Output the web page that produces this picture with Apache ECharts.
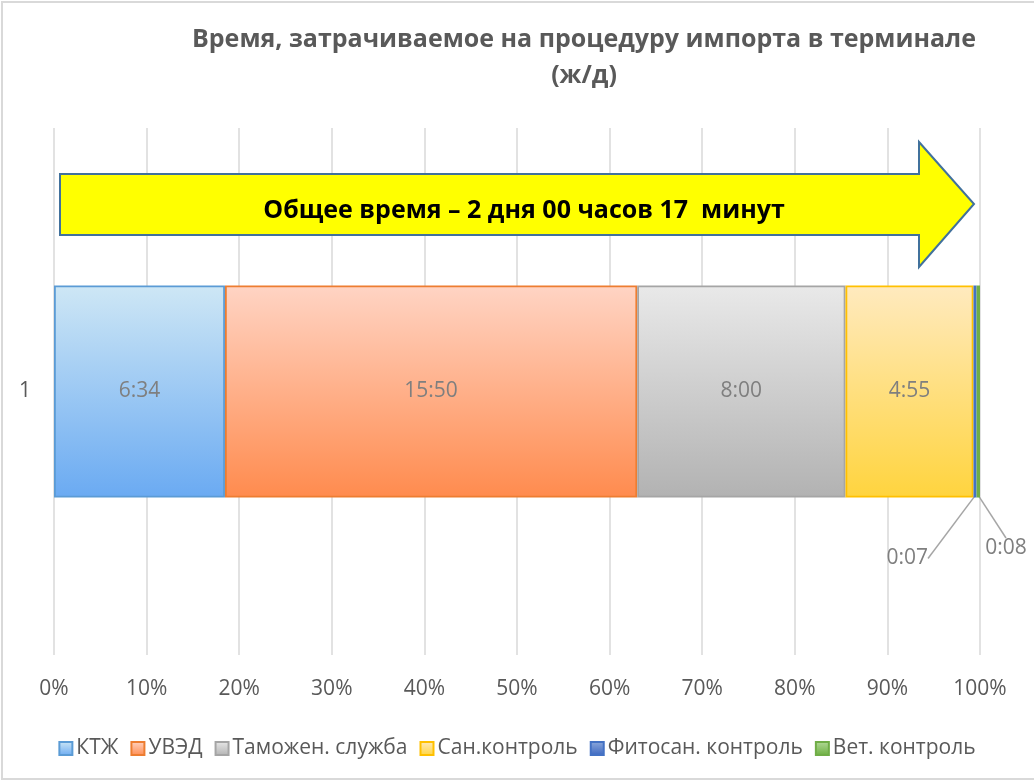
<!DOCTYPE html>
<html>
<head>
<meta charset="utf-8">
<script src="https://cdn.jsdelivr.net/npm/echarts@6/dist/echarts.min.js"></script>
<style>
html,body{margin:0;padding:0;background:#fff;}
#chart{width:1034px;height:782px;}
</style>
</head>
<body>
<div id="chart"></div>
<script>
// ---- data ----
const categories = ['1'];
const seriesNames = ['КТЖ', 'УВЭД', 'Таможен. служба', 'Сан.контроль', 'Фитосан. контроль', 'Вет. контроль'];
const minutesValues = [394, 950, 480, 295, 7, 8];   // 6:34, 15:50, 8:00, 4:55, 0:07, 0:08
const xTickValues = [0, 10, 20, 30, 40, 50, 60, 70, 80, 90, 100];
const titleText = 'Время, затрачиваемое на процедуру импорта в терминале\n(ж/д)';
const arrowText = 'Общее время – 2 дня 00 часов 17  минут';

// ---- styles ----
const gradients = [
  ['#CEE7F5', '#6AAAF2', '#5B9BD5'],
  ['#FFD4C4', '#FF8B4E', '#ED7D31'],
  ['#E9E9E9', '#B2B2B2', '#A5A5A5'],
  ['#FFEABF', '#FFD43E', '#FFC000'],
  ['#8FAADC', '#3A66C0', '#4472C4'],
  ['#B4DA9A', '#6AAE3E', '#70AD47']
];

const total = minutesValues.reduce((a, b) => a + b, 0);
function fmt(m) {
  const h = Math.floor(m / 60), mm = m % 60;
  return h + ':' + (mm < 10 ? '0' : '') + mm;
}

const series = seriesNames.map((name, i) => {
  const s = {
    name: name,
    type: 'bar',
    stack: 'total',
    barWidth: 212,
    data: categories.map(() => minutesValues[i] / total * 100),
    itemStyle: {
      color: new echarts.graphic.LinearGradient(0, 0, 0, 1, [
        {offset: 0, color: gradients[i][0]},
        {offset: 1, color: gradients[i][1]}
      ]),
      borderColor: gradients[i][2],
      borderWidth: 1.8
    },
    label: {
      show: true,
      position: 'inside',
      color: '#7F7F7F',
      fontSize: 21,
      fontFamily: 'Open Sans',
      formatter: () => fmt(minutesValues[i])
    },
    emphasis: {disabled: true}
  };
  if (i === 4) {
    s.labelLine = {show: true, lineStyle: {color: '#A6A6A6', width: 1.5}};
    s.labelLayout = function (p) {
      const r = p.rect;
      const bx = r.x + r.width / 2, by = r.y + r.height;
      return {
        x: bx - 47, y: by + 61, align: 'right', verticalAlign: 'middle',
        labelLinePoints: [[bx, by], [bx - 24, by + 59], [bx - 37, by + 59]]
      };
    };
  }
  if (i === 5) {
    s.labelLine = {show: true, lineStyle: {color: '#A6A6A6', width: 1.5}};
    s.labelLayout = function (p) {
      const r = p.rect;
      const bx = r.x + r.width, by = r.y + r.height / 2;
      return {
        x: bx + 26, y: by + 157, align: 'center', verticalAlign: 'middle',
        labelLinePoints: [[bx, by], [bx + 13, by + 68], [bx + 26, by + 136]]
      };
    };
  }
  return s;
});

const chart = echarts.init(document.getElementById('chart'), null, {renderer: 'canvas'});
chart.setOption({
  animation: false,
  backgroundColor: '#fff',
  title: {
    text: titleText,
    left: 579,
    top: 17,
    textAlign: 'center',
    textStyle: {
      fontFamily: 'Open Sans',
      fontWeight: 'bold',
      fontSize: 25,
      color: '#595959',
      lineHeight: 36
    }
  },
  legend: {
    data: seriesNames,
    bottom: 18,
    left: 'center',
    itemWidth: 13,
    itemHeight: 13,
    itemGap: 12,
    icon: 'rect',
    textStyle: {fontFamily: 'Open Sans', fontSize: 21, color: '#595959', padding: [0, 0, 0, -1]}
  },
  grid: {left: 54, right: 54, top: 128, bottom: 127, containLabel: false},
  xAxis: {
    type: 'value',
    min: 0, max: 100, interval: 10,
    axisLine: {show: false},
    axisTick: {show: false},
    splitLine: {show: true, lineStyle: {color: '#D9D9D9', width: 1.5}},
    axisLabel: {
      color: '#595959', fontSize: 21, fontFamily: 'Open Sans', margin: 24,
      formatter: (v) => xTickValues.includes(v) ? v + '%' : ''
    }
  },
  yAxis: {
    type: 'category',
    data: categories,
    axisLine: {show: false},
    axisTick: {show: false},
    axisLabel: {color: '#595959', fontSize: 21, fontFamily: 'Open Sans', margin: 23}
  },
  series: series,
  graphic: [
    {
      type: 'rect',
      silent: true,
      shape: {x: 2, y: 2, width: 1034, height: 777},
      style: {fill: 'none', stroke: '#D9D9D9', lineWidth: 2},
      z: 100
    },
    {
      type: 'polygon',
      silent: true,
      shape: {points: [[60, 174], [919, 174], [919, 142], [974, 204], [919, 267], [919, 235], [60, 235]]},
      style: {fill: '#FFFF00', stroke: '#41719C', lineWidth: 2},
      z: 50
    },
    {
      type: 'text',
      silent: true,
      x: 524, y: 211,
      style: {
        text: arrowText,
        fill: '#000',
        font: 'bold 25px "Open Sans", sans-serif',
        align: 'center',
        verticalAlign: 'middle'
      },
      z: 51
    }
  ]
});
</script>
</body>
</html>
